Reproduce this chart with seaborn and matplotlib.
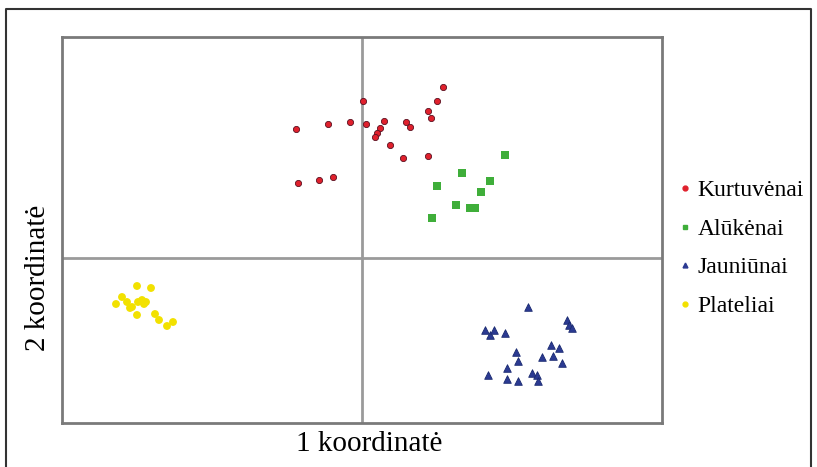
import pandas as pd
import matplotlib.pyplot as plt
import seaborn as sns
from matplotlib.lines import Line2D

# taškų koordinatės (nuskaitytos nuo paveikslo)
kurt_x = [-0.66, -0.34, -0.12, 0.01, 0.04, 0.22, 0.18, 0.15, 0.13, 0.28, 0.41,
          0.44, 0.48, 0.66, 0.69, 0.75, 0.81, 0.66, -0.64, -0.43, -0.29]
kurt_y = [1.29, 1.34, 1.36, 1.57, 1.34, 1.37, 1.30, 1.25, 1.21, 1.13, 1.00,
          1.36, 1.31, 1.47, 1.40, 1.57, 1.71, 1.02, 0.75, 0.78, 0.81]

aluk_x = [1.43, 1.00, 0.75, 1.28, 1.19, 0.94, 1.08, 1.13, 0.70]
aluk_y = [1.03, 0.85, 0.72, 0.77, 0.66, 0.53, 0.50, 0.50, 0.40]

jaun_x = [1.66, 2.05, 2.07, 2.10, 1.23, 1.28, 1.32, 1.43, 1.54, 1.56, 1.89,
          1.97, 1.80, 1.91, 2.00, 1.45, 1.70, 1.75, 1.76, 1.26, 1.45, 1.56]
jaun_y = [-0.49, -0.62, -0.67, -0.70, -0.72, -0.77, -0.72, -0.75, -0.94, -1.03, -0.87,
          -0.90, -0.99, -0.98, -1.05, -1.10, -1.15, -1.17, -1.23, -1.17, -1.21, -1.23]

plat_x = [-2.25, -2.11, -2.40, -2.46, -2.35, -2.30, -2.24, -2.18, -2.20, -2.32,
          -2.25, -2.07, -2.03, -1.95, -1.89, -2.16]
plat_y = [-0.28, -0.30, -0.39, -0.46, -0.44, -0.49, -0.44, -0.46, -0.42, -0.50,
          -0.57, -0.56, -0.62, -0.68, -0.64, -0.44]

groups = ['Kurtuvėnai', 'Alūkėnai', 'Jauniūnai', 'Plateliai']

df = pd.concat([
    pd.DataFrame({'x': kurt_x, 'y': kurt_y, 'vieta': groups[0]}),
    pd.DataFrame({'x': aluk_x, 'y': aluk_y, 'vieta': groups[1]}),
    pd.DataFrame({'x': jaun_x, 'y': jaun_y, 'vieta': groups[2]}),
    pd.DataFrame({'x': plat_x, 'y': plat_y, 'vieta': groups[3]}),
], ignore_index=True)

colors = {'Kurtuvėnai': '#e0202c', 'Alūkėnai': '#3fae3a',
          'Jauniūnai': '#2b3a92', 'Plateliai': '#f2e100'}
markers = {'Kurtuvėnai': 'o', 'Alūkėnai': 's', 'Jauniūnai': '^', 'Plateliai': 'o'}
sizes = {'Kurtuvėnai': 20, 'Alūkėnai': 30, 'Jauniūnai': 30, 'Plateliai': 32}

sns.set_style('white')
plt.rcParams['font.family'] = ['Liberation Serif', 'DejaVu Serif']
plt.rcParams['text.color'] = 'black'

fig = plt.figure(figsize=(8.17, 4.67), dpi=100)
ax = fig.add_axes([62 / 817, 1 - 423 / 467, 600 / 817, 386 / 467])

for g in groups:
    sub = df[df['vieta'] == g]
    edge = '#5a1020' if g == 'Kurtuvėnai' else ('#1a2a70' if g == 'Jauniūnai' else 'none')
    sns.scatterplot(data=sub, x='x', y='y', ax=ax, color=colors[g], marker=markers[g],
                    s=sizes[g], edgecolor=edge, linewidth=0.6, legend=False, zorder=3)

ax.set_xlim(-3, 3)
ax.set_ylim(-1.65, 2.21)
ax.axvline(0, color='#9a9a9a', lw=2, zorder=1)
ax.axhline(0, color='#9a9a9a', lw=2, zorder=1)
ax.set_xticks([])
ax.set_yticks([])
ax.set_xlabel('')
ax.set_ylabel('')
for sp in ax.spines.values():
    sp.set_color('#7a7a7a')
    sp.set_linewidth(2)

fig.text(369 / 817, 1 - 444 / 467, '1 koordinatė', ha='center', va='center',
         fontsize=21, color='black')
fig.text(38 / 817, 1 - 278 / 467, '2 koordinatė', ha='center', va='center',
         rotation=90, fontsize=21, color='black')

handles = [Line2D([], [], linestyle='', marker=markers[g], color=colors[g],
                  markersize=3.5) for g in groups]
leg = ax.legend(handles, groups, loc='upper left', bbox_to_anchor=(668 / 817, 1 - 168 / 467),
                bbox_transform=fig.transFigure, frameon=False, fontsize=17,
                handlelength=0.4, handletextpad=0.35, labelspacing=0.72, borderpad=0)
for t in leg.get_texts():
    t.set_color('black')

# rėmelis aplink visą paveikslą
fig.add_artist(Line2D([6 / 817, 6 / 817, 811 / 817, 811 / 817],
                      [-0.1, 1 - 9 / 467, 1 - 9 / 467, -0.1],
                      transform=fig.transFigure, color='#333333', lw=1.5))

fig.savefig('out.png', dpi=100)
